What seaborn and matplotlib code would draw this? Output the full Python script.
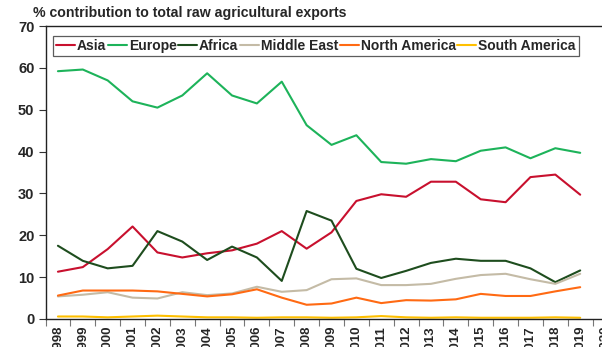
import matplotlib
matplotlib.use("Agg")
import matplotlib.pyplot as plt
from matplotlib.ticker import FixedLocator
import seaborn as sns
import pandas as pd

years = list(range(1998, 2020))
tick_years = list(range(1998, 2021))

asia = [11.3, 12.4, 16.7, 22.1, 15.9, 14.7, 15.7, 16.4, 18.0, 21.0, 16.8, 20.7,
        28.2, 29.8, 29.2, 32.8, 32.8, 28.6, 27.9, 33.9, 34.5, 29.7]
europe = [59.2, 59.6, 57.0, 52.0, 50.5, 53.4, 58.7, 53.4, 51.5, 56.7, 46.3, 41.6,
          43.9, 37.5, 37.1, 38.2, 37.7, 40.2, 41.0, 38.4, 40.8, 39.7]
africa = [17.5, 13.9, 12.1, 12.7, 21.0, 18.5, 14.1, 17.3, 14.7, 9.1, 25.8, 23.5,
          12.0, 9.8, 11.5, 13.4, 14.4, 13.9, 13.9, 12.1, 8.8, 11.6]
middle_east = [5.4, 5.8, 6.4, 5.1, 4.9, 6.4, 5.7, 6.1, 7.7, 6.5, 6.9, 9.5,
               9.7, 8.1, 8.1, 8.4, 9.6, 10.5, 10.8, 9.5, 8.4, 10.8]
north_america = [5.6, 6.8, 6.8, 6.8, 6.6, 6.0, 5.4, 5.9, 7.1, 5.1, 3.4, 3.7,
                 5.1, 3.8, 4.5, 4.4, 4.7, 6.0, 5.5, 5.5, 6.6, 7.6]
south_america = [0.6, 0.6, 0.4, 0.6, 0.8, 0.6, 0.4, 0.4, 0.3, 0.4, 0.4, 0.3,
                 0.4, 0.7, 0.4, 0.3, 0.4, 0.3, 0.3, 0.3, 0.4, 0.3]

regions = ["Asia", "Europe", "Africa", "Middle East", "North America", "South America"]
colors = ["#C8102E", "#1DB35A", "#1E4D1E", "#C4BBA6", "#FF6A13", "#FFC000"]

series = [asia, europe, africa, middle_east, north_america, south_america]
df = pd.concat(
    [pd.DataFrame({"year": years, "share": vals, "region": name})
     for name, vals in zip(regions, series)],
    ignore_index=True,
)

sns.set_style("white")
plt.rcParams["font.family"] = ["Liberation Sans", "DejaVu Sans"]
plt.rcParams["font.weight"] = "bold"

fig = plt.figure(figsize=(6.02, 3.47), dpi=100)
ax = fig.add_axes([45.5 / 602, 1 - 319 / 347, 572 / 602, (319 - 26) / 347])

sns.lineplot(data=df, x="year", y="share", hue="region", hue_order=regions,
             palette=colors, linewidth=1.5, ax=ax)

ax.set_xlim(1997.5, 2020.5)
ax.set_ylim(0, 70)
ax.set_yticks(range(0, 71, 10))
ax.set_yticklabels([str(v) for v in range(0, 71, 10)], fontsize=10.5, fontweight="bold")
ax.set_xticks(tick_years)
ax.set_xticklabels([str(y) for y in tick_years], rotation=90, fontsize=9.5,
                   fontweight="bold", va="top")
ax.xaxis.set_minor_locator(FixedLocator([y + 0.5 for y in range(1997, 2021)]))
ax.tick_params(axis="x", which="major", length=0, pad=5)
ax.tick_params(axis="x", which="minor", length=5, width=0.8, color="#777777",
               direction="out", bottom=True)
ax.tick_params(axis="y", which="major", length=5, width=0.8, color="#333333",
               direction="out", left=True, pad=3)
ax.set_xlabel("")
ax.set_ylabel("")

for side in ["left", "bottom", "top"]:
    ax.spines[side].set_color("#222222")
    ax.spines[side].set_linewidth(1.0)
ax.spines["right"].set_visible(False)

handles, labels = ax.get_legend_handles_labels()
leg = ax.legend(handles, labels, loc="upper left", ncol=6,
                bbox_to_anchor=(53 / 602, 1 - 36 / 347), bbox_transform=fig.transFigure,
                borderaxespad=0, frameon=True, fancybox=False, edgecolor="#333333",
                handlelength=1.35, handletextpad=0.15, columnspacing=0.12,
                borderpad=0.22, prop={"size": 10, "weight": "bold"})
leg.get_frame().set_linewidth(0.9)

fig.text(33 / 602, 1 - 17 / 347, "% contribution to total raw agricultural exports",
         fontsize=10.2, fontweight="bold", ha="left", va="baseline")

fig.savefig("out.png", dpi=100)
